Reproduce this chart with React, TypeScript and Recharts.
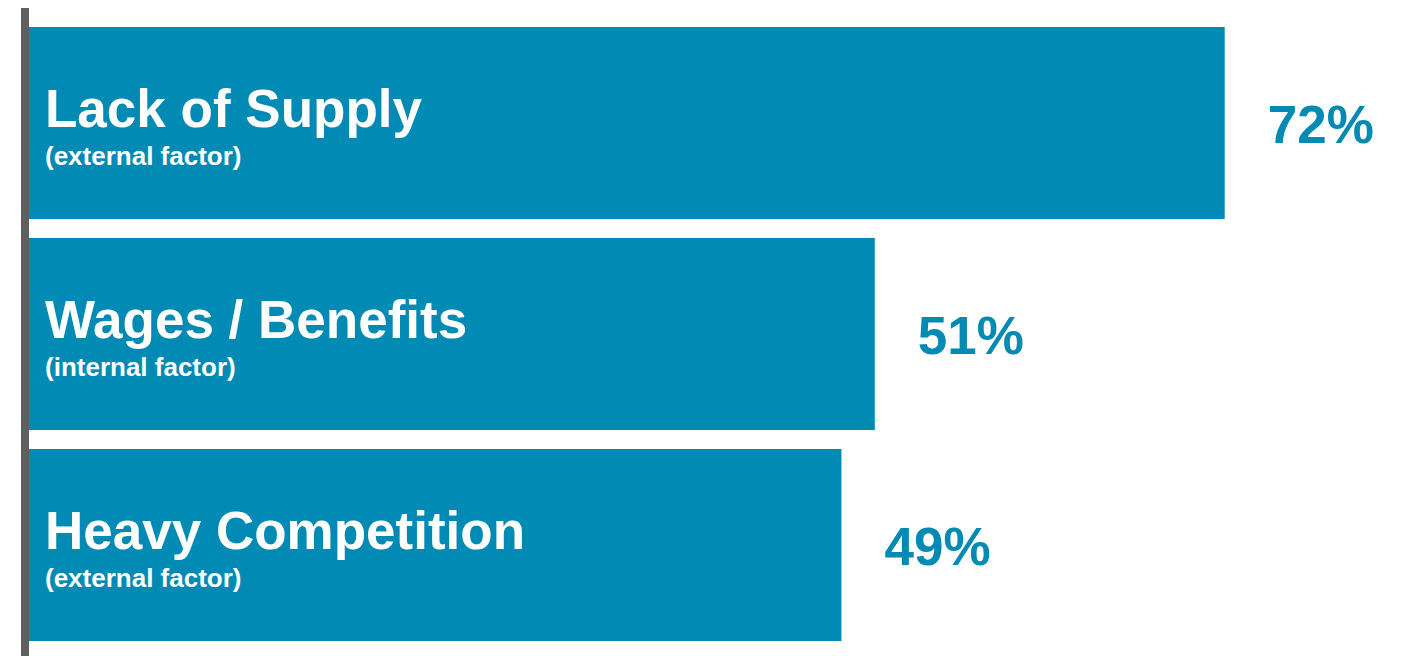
import { BarChart, Bar, XAxis, YAxis, LabelList, ReferenceLine } from 'recharts';

const categories = ['Lack of Supply', 'Wages / Benefits', 'Heavy Competition'];
const factors = ['(external factor)', '(internal factor)', '(external factor)'];
const shares = [72, 51, 49];

const BLUE = '#008AB4';
const FONT = '"Liberation Sans", Arial, sans-serif';

const data = categories.map((name, i) => ({ name, factor: factors[i], value: shares[i] }));

const InsideLabel = (props: any) => {
  const { x, y, index } = props;
  return (
    <g fontFamily={FONT} fontWeight="bold" fill="#ffffff">
      <text x={x + 20} y={y + 100} fontSize={53}>{categories[index]}</text>
      <text x={x + 20} y={y + 138} fontSize={26}>{factors[index]}</text>
    </g>
  );
};

const ValueLabel = (props: any) => {
  const { x, y, width, height, value } = props;
  return (
    <text x={x + width + 43} y={y + height / 2 + 20} fontSize={53} fontWeight="bold"
      fontFamily={FONT} fill={BLUE}>
      {value}%
    </text>
  );
};

const App = () => {
  return (
    <div style={{ position: 'absolute', left: 0, top: 0, background: '#fff' }}>
      <BarChart width={1412} height={656} data={data} layout="vertical"
        margin={{ top: 8, right: 54, bottom: 0, left: 25 }}>
        <XAxis type="number" domain={[0, 80]} hide />
        <YAxis type="category" dataKey="name" hide padding={{ top: 9, bottom: 6 }} />
        <Bar dataKey="value" fill={BLUE} barSize={192} isAnimationActive={false}>
          <LabelList dataKey="name" content={InsideLabel} />
          <LabelList dataKey="value" content={ValueLabel} />
        </Bar>
        <ReferenceLine x={0} stroke="#5f5f5f" strokeWidth={8} />
      </BarChart>
    </div>
  );
};

export default App;
